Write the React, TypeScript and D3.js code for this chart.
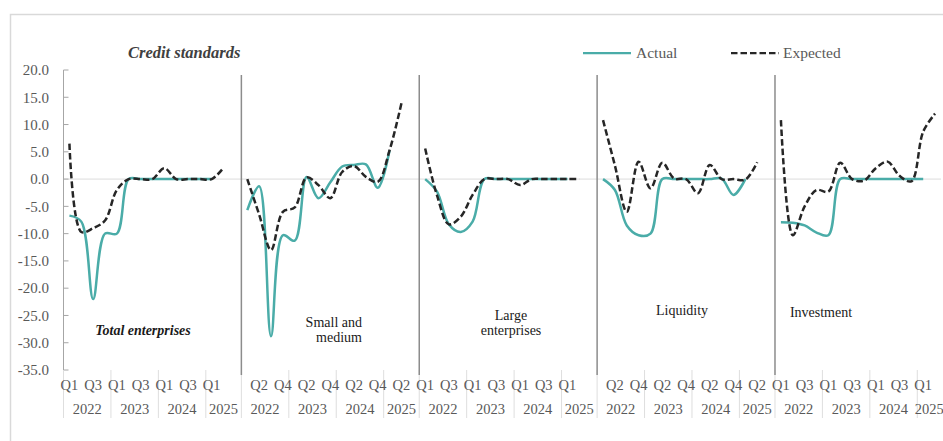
import React from "react";
import * as d3 from "d3";

const panels = ["Total enterprises", "Small and medium", "Large enterprises", "Liquidity", "Investment"];
const quarters = ["Q1", "Q2", "Q3", "Q4", "Q1", "Q2", "Q3", "Q4", "Q1", "Q2", "Q3", "Q4", "Q1", "Q2", ""];
const years = ["2022", "2023", "2024", "2025"];
const yearSizes = [4, 4, 4, 3];
const yTicks = [20, 15, 10, 5, 0, -5, -10, -15, -20, -25, -30, -35];

const actualTotal = [-6.7, -7.8, -22.0, -10.0, -10.0, 0, 0, 0, 0, 0, 0, 0, 0];
const actualSme = [-5.7, -1.3, -28.8, -10.3, -11.3, 0.4, -3.5, -0.6, 2.3, 2.6, 2.7, -1.6, 5.3];
const actualLarge = [0, -2.3, -8.3, -9.7, -7.8, 0, 0, 0, 0, 0, 0, 0, 0];
const actualLiquidity = [0, -2.0, -8.5, -10.3, -10.0, 0, 0, 0, 0, 0, 0.1, -2.9, 0];
const actualInvestment = [-7.9, -8.0, -8.5, -9.8, -10.3, 0, 0, 0, 0, 0, 0, 0, 0];

const expectedTotal = [6.5, -9.7, -9.0, -7.6, -2.0, 0, 0, 0, 2.0, 0, 0, 0, 0, 2.1];
const expectedSme = [0, -6.5, -13.0, -6.0, -5.2, 0.3, -1.1, -3.5, 1.3, 2.4, 0.4, -0.5, 5.3, 13.9];
const expectedLarge = [5.6, -3.0, -8.3, -6.9, -2.9, 0, 0, 0, -1.1, 0, 0, 0, 0, 0];
const expectedLiquidity = [10.8, 2.5, -6.0, 3.2, -1.7, 3.0, 0.1, 0, -2.6, 2.6, 0, 0, -0.1, 3.1];
const expectedInvestment = [10.8, -10.3, -5.0, -2.0, -2.3, 3.0, 0, -0.3, 2.0, 3.2, 0.6, -0.4, 8.7, 12.0];

const actualSeries = [actualTotal, actualSme, actualLarge, actualLiquidity, actualInvestment];
const expectedSeries = [expectedTotal, expectedSme, expectedLarge, expectedLiquidity, expectedInvestment];

const TEAL = "#4aaca8";
const DARK = "#262626";
const GREY = "#595959";
const FONT = "'Liberation Serif', 'Times New Roman', serif";

export default function App() {
  const W = 943;
  const H = 441;
  const lastPanel = panels.length - 1;
  // every panel ends with a blank spacer category, except the last one
  const panelCats = (p: number) => (p === lastPanel ? quarters.length - 1 : quarters.length);
  const keys: string[] = [];
  panels.forEach((_, p) => {
    for (let i = 0; i < panelCats(p); i++) keys.push(`${p}-${i}`);
  });

  const x = d3.scaleBand<string>().domain(keys).range([63.5, 941]).padding(0);
  const bw = x.bandwidth();
  const cx = (p: number, i: number) => (x(`${p}-${i}`) as number) + bw / 2;
  const y = d3.scaleLinear().domain([-35, 20]).range([370, 70]);

  const line = (p: number) =>
    d3
      .line<number>()
      .x((_, i) => cx(p, i))
      .y((v) => y(v))
      .curve(d3.curveCatmullRom.alpha(0.5));

  const panelStart = (p: number) => x(`${p}-0`) as number;

  const yearGroups: { x0: number; x1: number; label: string; key: string }[] = [];
  panels.forEach((_, p) => {
    let idx = 0;
    years.forEach((yr, j) => {
      const size = Math.min(yearSizes[j], panelCats(p) - idx);
      const x0 = x(`${p}-${idx}`) as number;
      yearGroups.push({ x0, x1: x0 + bw * size, label: yr, key: `${p}-${yr}` });
      idx += yearSizes[j];
    });
  });

  const labelPos = [
    { lines: ["Total enterprises"], x: 143, y: 335, anchor: "middle", bold: true },
    { lines: ["Small and", "medium"], x: 362, y: 327, anchor: "end", bold: false },
    { lines: ["Large", "enterprises"], x: 511, y: 320, anchor: "middle", bold: false },
    { lines: ["Liquidity"], x: 682, y: 315, anchor: "middle", bold: false },
    { lines: ["Investment"], x: 821, y: 317, anchor: "middle", bold: false },
  ];

  return (
    <svg width={W} height={H} style={{ position: "absolute", left: 0, top: 0, background: "#fff" }} fontFamily={FONT}>
      <rect x={0} y={0} width={W} height={H} fill="#fff" />
      <path d={`M10.5,${H + 5}V14.5H${W + 10}`} fill="none" stroke="#d9d9d9" strokeWidth={1.5} />

      <text x={128} y={58} fontSize={16.5} fontWeight="bold" fontStyle="italic" fill="#404040">
        Credit standards
      </text>

      {/* legend */}
      <line x1={583} x2={631} y1={53} y2={53} stroke={TEAL} strokeWidth={2.25} />
      <text x={636} y={58} fontSize={15.5} fill={GREY}>Actual</text>
      <line x1={731} x2={779} y1={53} y2={53} stroke={DARK} strokeWidth={2.25} strokeDasharray="6.5,3" />
      <text x={783} y={58} fontSize={15.5} fill={GREY}>Expected</text>

      {/* zero line */}
      <line x1={63.5} x2={941} y1={y(0)} y2={y(0)} stroke="#dcdcdc" strokeWidth={1} />

      {/* y axis */}
      <line x1={63.5} x2={63.5} y1={y(20)} y2={y(-35)} stroke="#a6a6a6" strokeWidth={1} />
      {yTicks.map((t) => (
        <g key={t}>
          <line x1={63.5} x2={68.5} y1={y(t)} y2={y(t)} stroke="#a6a6a6" strokeWidth={1} />
          <text x={49} y={y(t)} dy="0.35em" textAnchor="end" fontSize={15} fill={GREY}>
            {t.toFixed(1)}
          </text>
        </g>
      ))}

      {/* category separators */}
      {yearGroups.map((g) => (
        <line key={g.key} x1={g.x0} x2={g.x0} y1={370} y2={418} stroke="#dedede" strokeWidth={1} />
      ))}

      {/* quarter labels */}
      {keys.map((k, gi) => {
        const [p, i] = k.split("-").map(Number);
        if (gi % 2 !== 0 || !quarters[i]) return null;
        return (
          <text key={k} x={cx(p, i)} y={390} textAnchor="middle" fontSize={14.5} fill={GREY}>
            {quarters[i]}
          </text>
        );
      })}

      {/* year labels */}
      {yearGroups.map((g) => (
        <text key={g.key} x={(g.x0 + g.x1) / 2} y={414} textAnchor="middle" fontSize={14.5} fill={GREY}>
          {g.label}
        </text>
      ))}

      {/* panel separators */}
      {panels.slice(1).map((_, j) => (
        <line key={j} x1={panelStart(j + 1)} x2={panelStart(j + 1)} y1={75} y2={375} stroke="#8c8c8c" strokeWidth={1.5} />
      ))}

      {/* series */}
      {panels.map((_, p) => (
        <g key={p}>
          <path d={line(p)(actualSeries[p]) || ""} fill="none" stroke={TEAL} strokeWidth={2.5} strokeLinejoin="round" />
          <path d={line(p)(expectedSeries[p]) || ""} fill="none" stroke={DARK} strokeWidth={2.5} strokeDasharray="6.5,3" />
        </g>
      ))}

      {/* panel labels */}
      {labelPos.map((l, i) => (
        <text
          key={i}
          x={l.x}
          y={l.y}
          textAnchor={l.anchor as any}
          fontSize={14}
          fontWeight={l.bold ? "bold" : "normal"}
          fontStyle={l.bold ? "italic" : "normal"}
          fill="#1a1a1a"
        >
          {l.lines.map((t, j) => (
            <tspan key={j} x={l.x} dy={j === 0 ? 0 : 15}>
              {t}
            </tspan>
          ))}
        </text>
      ))}
    </svg>
  );
}
